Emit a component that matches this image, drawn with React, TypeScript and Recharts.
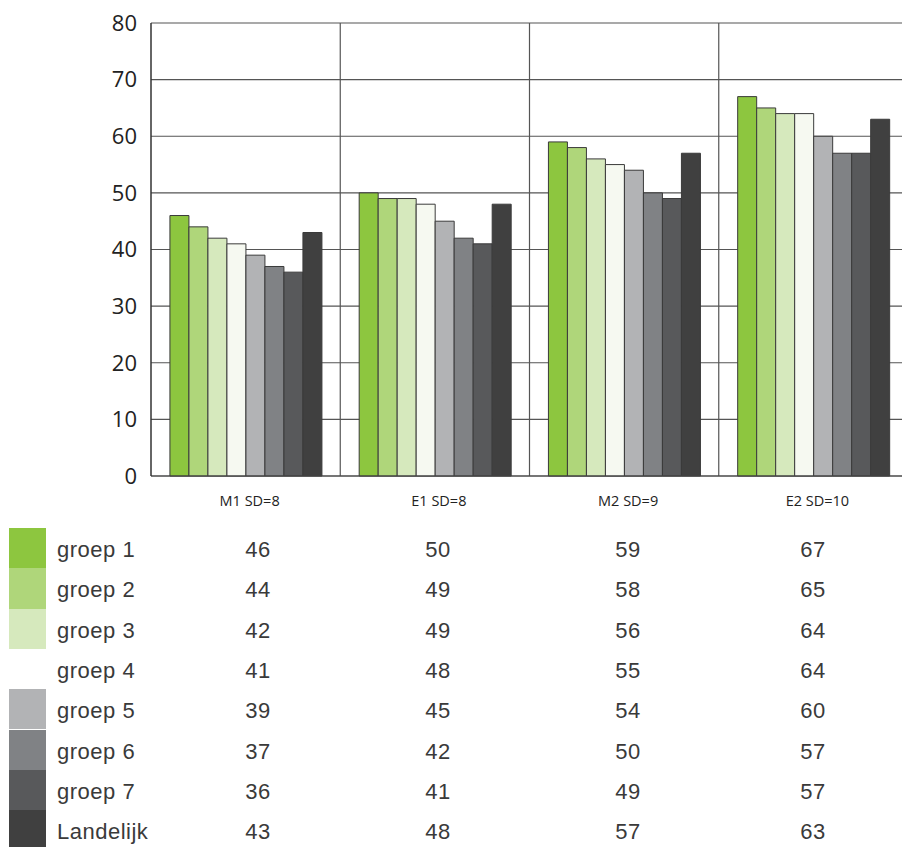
import { BarChart, Bar, XAxis, YAxis, CartesianGrid } from 'recharts';

const categories = ['M1 SD=8', 'E1 SD=8', 'M2 SD=9', 'E2 SD=10'];
const seriesNames = ['groep 1', 'groep 2', 'groep 3', 'groep 4', 'groep 5', 'groep 6', 'groep 7', 'Landelijk'];
const groep1 = [46, 50, 59, 67];
const groep2 = [44, 49, 58, 65];
const groep3 = [42, 49, 56, 64];
const groep4 = [41, 48, 55, 64];
const groep5 = [39, 45, 54, 60];
const groep6 = [37, 42, 50, 57];
const groep7 = [36, 41, 49, 57];
const landelijk = [43, 48, 57, 63];
const yTicks = [0, 10, 20, 30, 40, 50, 60, 70, 80];

const seriesValues = [groep1, groep2, groep3, groep4, groep5, groep6, groep7, landelijk];
const palette = ['#8dc63f', '#afd67a', '#d6e9bd', '#f6f9f1', '#b2b3b5', '#808285', '#58595b', '#404040'];

const chartData = categories.map((cat, i) => {
  const row: Record<string, number | string> = { name: cat };
  seriesNames.forEach((s, j) => {
    row[s] = seriesValues[j][i];
  });
  return row;
});

// table columns sit roughly under each category
const columnCenters = [258, 438, 628, 813];

const App = () => {
  return (
    <div style={{ position: 'absolute', left: 0, top: 0, width: 902, height: 847, overflow: 'hidden', background: '#fff' }}>
      <BarChart
        width={908}
        height={520}
        data={chartData}
        margin={{ top: 23, right: 0, left: 0, bottom: 0 }}
        barCategoryGap="10%"
        barGap={0}
      >
        <CartesianGrid
          stroke="#555"
          strokeWidth={1.2}
          verticalCoordinatesGenerator={({ offset }: any) =>
            [1, 2, 3, 4].map((i) => offset.left + (offset.width * i) / categories.length)
          }
        />
        <XAxis
          dataKey="name"
          axisLine={{ stroke: '#444', strokeWidth: 1.2 }}
          tickLine={false}
          tickSize={0}
          tickMargin={20}
          height={44}
          tick={{ fill: '#222', fontSize: 14.5, fontFamily: 'Open Sans', dx: 4 }}
        />
        <YAxis
          domain={[0, 80]}
          ticks={yTicks}
          interval={0}
          width={151}
          axisLine={{ stroke: '#333', strokeWidth: 1.5 }}
          tickLine={false}
          tickSize={0}
          tickMargin={14}
          tick={{ fill: '#222', fontSize: 22, fontFamily: 'Open Sans' }}
        />
        {seriesNames.map((s, i) => (
          <Bar key={s} dataKey={s} fill={palette[i]} stroke="#3a3a3a" strokeWidth={1} isAnimationActive={false} />
        ))}
      </BarChart>
      {seriesNames.map((s, i) => (
        <div
          key={s}
          style={{
            position: 'absolute',
            left: 0,
            top: 528 + i * 40.3,
            width: 902,
            height: 40.3,
            fontFamily: 'Liberation Sans',
            fontSize: 22,
            letterSpacing: 0.5,
            color: '#3a3a3a',
          }}
        >
          <div style={{ position: 'absolute', left: 9, top: 0, width: 37, height: 40.3, background: i === 3 ? '#fff' : palette[i] }} />
          <div style={{ position: 'absolute', left: 57, top: 2, lineHeight: '40px' }}>{s}</div>
          {seriesValues[i].map((v, j) => (
            <div
              key={j}
              style={{ position: 'absolute', left: columnCenters[j] - 30, width: 60, textAlign: 'center', top: 2, lineHeight: '40px' }}
            >
              {v}
            </div>
          ))}
        </div>
      ))}
    </div>
  );
};

export default App;
